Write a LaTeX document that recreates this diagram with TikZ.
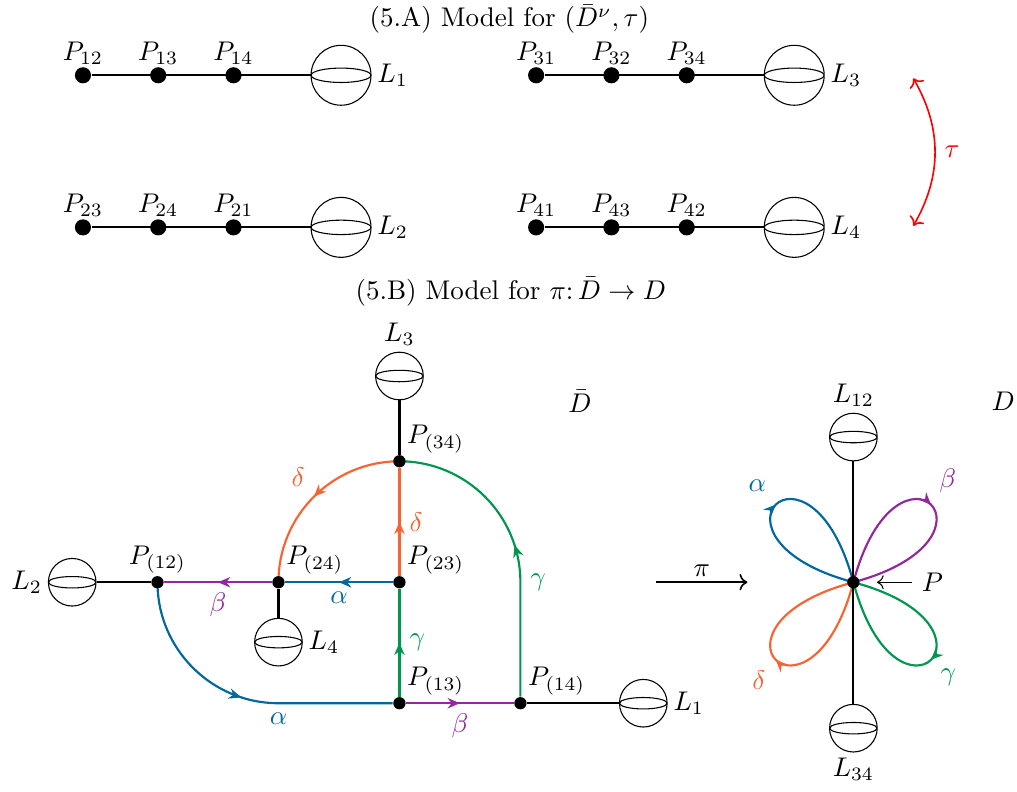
\documentclass[tikz,border=0pt]{standalone}
\usetikzlibrary{positioning,arrows.meta,decorations.markings,backgrounds}
\definecolor{AlphaBlue}{RGB}{0,104,155}
\definecolor{BetaPurple}{RGB}{145,40,155}
\definecolor{GammaGreen}{RGB}{0,150,80}
\definecolor{DeltaOrange}{RGB}{245,100,50}
\tikzset{
  bigdot/.style={circle,fill,inner sep=0pt,minimum size=0.21cm},
  smalldot/.style={circle,fill,inner sep=0pt,minimum size=0.16cm},
  sphere/.style={circle,draw,thin,inner sep=0pt,minimum size=2*#1,
    path picture={\draw[thin] (path picture bounding box.center) ellipse [x radius=#1,y radius=0.24*#1];}},
  sphere/.default=0.31cm,
  toplab/.style={inner sep=2pt,label distance=-1.5pt},
  plab/.style={inner sep=2pt,label distance=-1.5pt},
  llab/.style={inner sep=2pt,label distance=0pt},
  midarrow/.style={postaction={decorate},decoration={markings,
    mark=at position #1 with {\arrow{Stealth[length=1.6mm,width=1.35mm]}}}},
  midarrow/.default=0.5,
  acol/.style={AlphaBlue,thick},
  bcol/.style={BetaPurple,thick},
  gcol/.style={GammaGreen,thick},
  dcol/.style={DeltaOrange,thick}
}

\begin{document}
\begin{tikzpicture}[on grid]
  \useasboundingbox (0,0) rectangle (13.24,-10.30);
  % (5.A)
  \node (titleA) at (6.63,-0.25) {(5.A) Model for $(\bar{D}^{\nu},\tau)$};

  \node[bigdot,label={[toplab]above:$P_{12}$}] (p12) at (1.08,-0.98) {};
  \node[bigdot,right=0.98cm of p12,label={[toplab]above:$P_{13}$}] (p13) {};
  \node[bigdot,right=0.98cm of p13,label={[toplab]above:$P_{14}$}] (p14) {};
  \node[sphere=0.39cm,right=1.40cm of p14,label={[llab]right:$L_1$}] (s1) {};
  \draw[thick] (p12) -- (s1);

  \node[bigdot,label={[toplab]above:$P_{23}$}] (p23) at (1.08,-2.96) {};
  \node[bigdot,right=0.98cm of p23,label={[toplab]above:$P_{24}$}] (p24) {};
  \node[bigdot,right=0.98cm of p24,label={[toplab]above:$P_{21}$}] (p21) {};
  \node[sphere=0.39cm,right=1.40cm of p21,label={[llab]right:$L_2$}] (s2) {};
  \draw[thick] (p23) -- (s2);

  \node[bigdot,label={[toplab]above:$P_{31}$}] (p31) at (6.98,-0.98) {};
  \node[bigdot,right=0.98cm of p31,label={[toplab]above:$P_{32}$}] (p32) {};
  \node[bigdot,right=0.98cm of p32,label={[toplab]above:$P_{34}$}] (p34) {};
  \node[sphere=0.39cm,right=1.40cm of p34,label={[llab]right:$L_3$}] (s3) {};
  \draw[thick] (p31) -- (s3);

  \node[bigdot,label={[toplab]above:$P_{41}$}] (p41) at (6.98,-2.96) {};
  \node[bigdot,right=0.98cm of p41,label={[toplab]above:$P_{43}$}] (p43) {};
  \node[bigdot,right=0.98cm of p43,label={[toplab]above:$P_{42}$}] (p42) {};
  \node[sphere=0.39cm,right=1.40cm of p42,label={[llab]right:$L_4$}] (s4) {};
  \draw[thick] (p41) -- (s4);

  \coordinate (tautop) at (11.89,-1.02);
  \coordinate (taubot) at (11.89,-2.94);
  \draw[red,semithick,<->] (tautop) to[bend left=30] node[right] {$\tau$} (taubot);

  % (5.B)
  \node (titleB) at (6.65,-3.80) {(5.B) Model for $\pi\colon \bar{D}\to D$};

  \node[smalldot,label={[plab]above:$P_{(12)}$}] (c12) at (2.05,-7.58) {};
  \node[smalldot,right=1.575cm of c12,label={[plab]45:$P_{(24)}$}] (c24) {};
  \node[smalldot,right=1.575cm of c24,label={[plab]45:$P_{(23)}$}] (c23) {};
  \node[smalldot,above=1.575cm of c23,label={[plab]45:$P_{(34)}$}] (c34) {};
  \node[smalldot,below=1.575cm of c23,label={[plab]45:$P_{(13)}$}] (c13) {};
  \node[smalldot,right=1.575cm of c13,label={[plab]45:$P_{(14)}$}] (c14) {};

  \node[sphere,left=1.11cm of c12,label={[llab]left:$L_2$}] (L2) {};
  \node[sphere,below=0.78cm of c24,label={[llab]right:$L_4$}] (L4) {};
  \node[sphere,above=1.11cm of c34,label={[llab]above:$L_3$}] (L3) {};
  \node[sphere,right=1.60cm of c14,label={[llab]right:$L_1$}] (L1) {};
  \draw[thick] (L2) -- (c12);
  \draw[thick] (c24) -- (L4);
  \draw[thick] (c34) -- (L3);
  \draw[thick] (c14) -- (L1);

  \begin{scope}[on background layer]
    \draw[acol,midarrow] (c23) -- node[below] {$\alpha$} (c24);
    \draw[bcol,midarrow] (c24) -- node[below] {$\beta$} (c12);
    \draw[dcol,midarrow] (c23) -- node[right] {$\delta$} (c34);
    \draw[gcol,midarrow] (c13) -- node[right] {$\gamma$} (c23);
    \draw[bcol,midarrow] (c13) -- node[below] {$\beta$} (c14);
    \draw[acol,midarrow] (c12.center) arc[start angle=180,end angle=270,radius=1.575]
      node[below] {$\alpha$} -- (c13);
    \draw[gcol,midarrow] (c14) -- (c14 |- c23) node[right] {$\gamma$}
      arc[start angle=0,end angle=90,radius=1.575];
    \draw[dcol,midarrow] (c34.center) arc[start angle=90,end angle=180,radius=1.575];
  \end{scope}
  \node[DeltaOrange] (dlab) at ([shift={(134:1.9)}]c23) {$\delta$};

  \node (Dbar) at (7.55,-5.23) {$\bar{D}$};

  % pi
  \coordinate (pistart) at (8.54,-7.58);
  \coordinate (piend) at (9.73,-7.58);
  \draw[semithick,->] (pistart) -- node[above,inner sep=2pt] {$\pi$} (piend);

  % D
  \node[smalldot] (D) at (11.11,-7.58) {};
  \node[sphere,above=1.89cm of D,label={[llab]above:$L_{12}$}] (L12) {};
  \node[sphere,below=1.90cm of D,label={[llab]below:$L_{34}$}] (L34) {};
  \draw[thick] (L12) -- (L34);
  \begin{scope}[on background layer]
    \draw[acol,midarrow] (D.center) .. controls +(165:2.2) and +(105:2.2) .. (D.center);
    \draw[bcol,midarrow] (D.center) .. controls +(75:2.2) and +(15:2.2) .. (D.center);
    \draw[gcol,midarrow] (D.center) .. controls +(-15:2.2) and +(-75:2.2) .. (D.center);
    \draw[dcol,midarrow] (D.center) .. controls +(-105:2.2) and +(-165:2.2) .. (D.center);
  \end{scope}
  \node[AlphaBlue] (alab) at ([shift={(135:1.77)}]D) {$\alpha$};
  \node[BetaPurple] (blab) at ([shift={(47:1.8)}]D) {$\beta$};
  \node[GammaGreen] (glab) at ([shift={(-45:1.75)}]D) {$\gamma$};
  \node[DeltaOrange] (dlab2) at ([shift={(-134:1.77)}]D) {$\delta$};
  \node (Plab) at (12.14,-7.58) {$P$};
  \draw[->,shorten >=0.22cm] (Plab) -- (D);

  \node (Dlab) at (13.06,-5.23) {$D$};
\end{tikzpicture}
\end{document}
